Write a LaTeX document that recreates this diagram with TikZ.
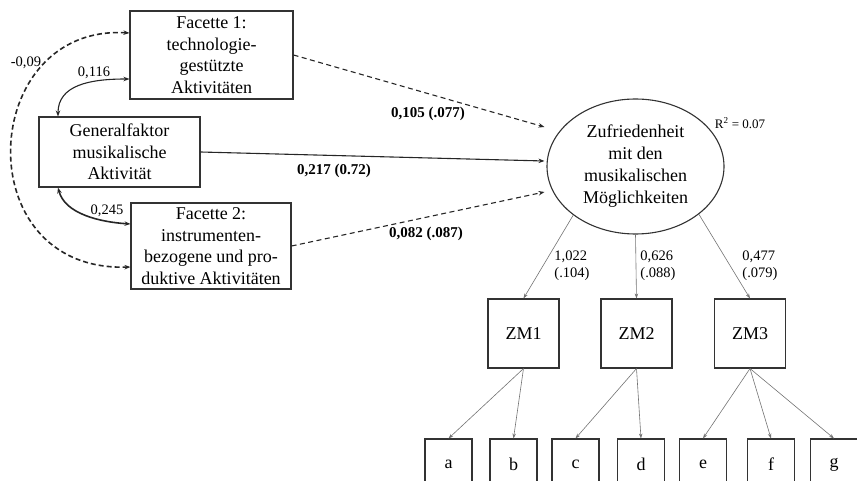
\documentclass[tikz,border=0pt]{standalone}
\usepackage{fontspec}
\setmainfont{Liberation Serif}
\usetikzlibrary{calc,arrows.meta,shapes.geometric}
\begin{document}
\begin{tikzpicture}[x=1pt,y=-1pt,
  box/.style={draw=black!80,line width=1.1pt,align=center,inner sep=0pt,font=\fontsize{18}{21.5}\selectfont},
  lat/.style={draw=black!80,line width=1.1pt,ellipse,align=center,inner sep=0pt,font=\fontsize{18}{22}\selectfont},
  coef/.style={font=\bfseries\fontsize{15}{17}\selectfont},
  lab/.style={font=\fontsize{14.5}{17}\selectfont,align=left},
  tip/.style={-{Stealth[length=6pt,width=4.5pt]}},
  bitip/.style={{Stealth[length=6pt,width=4.5pt]}-{Stealth[length=6pt,width=4.5pt]}},
  path1/.style={line width=1.1pt,black!85},
  dsh/.style={line width=1.1pt,black!85,dash pattern=on 5pt off 3.5pt},
  thin/.style={line width=0.6pt,black!55},
  smalltip/.style={-{Stealth[length=5pt,width=3.5pt]}}
]
\useasboundingbox (0,0) rectangle (857,481);

% left boxes
\node[box,minimum width=163pt,minimum height=88pt] (f1) at (211.5,55) {Facette 1:\\technologie-\\gestützte\\Aktivitäten};
\node[box,minimum width=161pt,minimum height=70pt] (gen) at (119.5,152) {Generalfaktor\\musikalische\\Aktivität};
\node[box,minimum width=160pt,minimum height=86pt] (f2) at (211,246) {Facette 2:\\instrumenten-\\bezogene und pro-\\duktive Aktivitäten};

% latent
\node[lat,minimum width=177pt,minimum height=135pt] (ell) at (635.5,166.5) {Zufriedenheit\\mit den\\musikalischen\\Möglichkeiten};
\node[font=\fontsize{13}{15}\selectfont] (r2) at (740,123) {R\textsuperscript{2} = 0.07};

% ZM boxes
\node[box,minimum width=71pt,minimum height=69pt] (zm1) at (523.5,333.5) {ZM1};
\node[box,minimum width=71pt,minimum height=69pt] (zm2) at (636.5,333.5) {ZM2};
\node[box,minimum width=71pt,minimum height=69pt] (zm3) at (750,333.5) {ZM3};

% item boxes
\foreach \n/\x in {a/448.5,b/513.5,c/575.5,d/641,e/703,f/771,g/834}
  \node[box,minimum width=47pt,minimum height=51pt] (\n) at (\x,464.5) {\n};

% target points near ellipse
\coordinate (t1) at ($(ell.west)+(-2,-39.5)$);
\coordinate (t2) at ($(ell.west)+(-2,-5.5)$);
\coordinate (t3) at ($(ell.west)+(-2,25.5)$);

% structural paths
\draw[dsh,tip] (f1.east) -- (t1);
\draw[path1,tip] (gen.east) -- (t2);
\draw[dsh,tip] (f2.east) -- (t3);
\node[coef] (c1) at (428,114) {0,105 (.077)};
\node[coef] (c2) at (334,171) {0,217 (0.72)};
\node[coef] (c3) at (426,234) {0,082 (.087)};

% loadings
\draw[thin,smalltip] (ell.218) -- (zm1.north);
\draw[thin,smalltip] (ell.south) -- (zm2.north);
\draw[thin,smalltip] (ell.323) -- (zm3.north);
\node[lab] (l1) at (572,266) {1,022\\(.104)};
\node[lab] (l2) at (658,266) {0,626\\(.088)};
\node[lab] (l3) at (760,266) {0,477\\(.079)};

\draw[thin,smalltip] (zm1.south) -- (a.north);
\draw[thin,smalltip] (zm1.south) -- (b.north);
\draw[thin,smalltip] (zm2.south) -- (c.north);
\draw[thin,smalltip] (zm2.south) -- (d.north);
\draw[thin,smalltip] (zm3.south) -- (e.north);
\draw[thin,smalltip] (zm3.south) -- (f.north);
\draw[thin,smalltip] (zm3.south) -- (g.north);

% correlations
\draw[line width=1.6pt,black!85,dash pattern=on 5pt off 3pt,bitip]
  ([yshift=22pt]f1.west) .. controls (-22,24) and (-34,272) .. ([yshift=-21pt]f2.west);
\draw[line width=1.1pt,black!85,bitip]
  ([xshift=-61.5pt]gen.north) .. controls (58,85) and (90,79) .. ([yshift=-24pt]f1.west);
\draw[line width=1.6pt,black!85,bitip]
  ([xshift=-61.5pt]gen.south) .. controls (65,214) and (100,222) .. ([yshift=22pt]f2.west);
\node[lab] (k1) at (26,63) {-0,09};
\node[lab] (k2) at (94,73) {0,116};
\node[lab] (k3) at (107,211) {0,245};
\end{tikzpicture}
\end{document}
